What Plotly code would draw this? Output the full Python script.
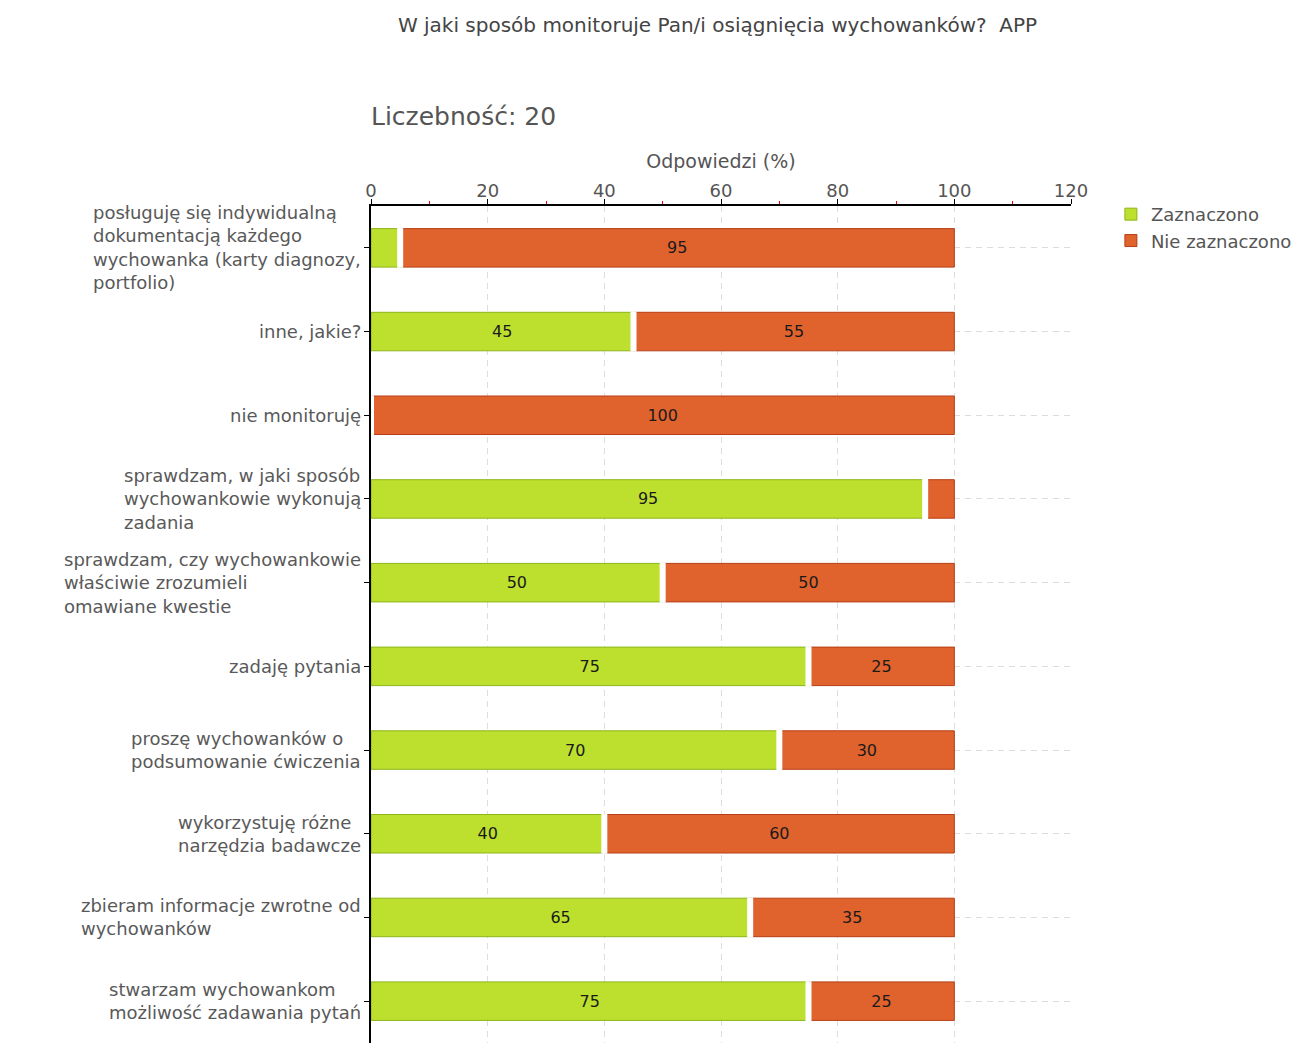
import plotly.graph_objects as go

title_text = "W jaki sposób monitoruje Pan/i osiągnięcia wychowanków?  APP"
count_text = "Liczebność: 20"
axis_title = "Odpowiedzi (%)"

categories = [
    "posługuję się indywidualną<br>dokumentacją każdego<br>wychowanka (karty diagnozy,<br>portfolio)",
    "inne, jakie?",
    "nie monitoruję",
    "sprawdzam, w jaki sposób<br>wychowankowie wykonują<br>zadania",
    "sprawdzam, czy wychowankowie<br>właściwie zrozumieli<br>omawiane kwestie",
    "zadaję pytania",
    "proszę wychowanków o<br>podsumowanie ćwiczenia",
    "wykorzystuję różne<br>narzędzia badawcze",
    "zbieram informacje zwrotne od<br>wychowanków",
    "stwarzam wychowankom<br>możliwość zadawania pytań",
]
cat_keys = [f"c{i}" for i in range(len(categories))]

zaznaczono = [5, 45, 0, 95, 50, 75, 70, 40, 65, 75]
nie_zaznaczono = [95, 55, 100, 5, 50, 25, 30, 60, 35, 25]

series_names = ["Zaznaczono", "Nie zaznaczono"]
green_fill, green_line = "#bde02f", "#8db518"
orange_fill, orange_line = "#e0632e", "#b63e16"

FONT = "DejaVu Sans"

def labels(vals):
    return [str(v) if v >= 10 else "" for v in vals]

fig = go.Figure()

fig.add_trace(go.Bar(
    name=series_names[1], orientation="h", y=cat_keys, x=nie_zaznaczono,
    base=zaznaczono, width=0.46,
    marker=dict(color=orange_fill, line=dict(color=orange_line, width=1)),
    text=labels(nie_zaznaczono), textposition="inside", insidetextanchor="middle",
    textangle=0, constraintext="none",
    textfont=dict(family=FONT, size=16, color="#1a1a1a"),
    legendrank=2, hoverinfo="skip",
))
fig.add_trace(go.Bar(
    name=series_names[0], orientation="h", y=cat_keys, x=zaznaczono,
    width=0.46,
    marker=dict(color=green_fill, line=dict(color=green_line, width=1)),
    text=labels(zaznaczono), textposition="inside", insidetextanchor="middle",
    textangle=0, constraintext="none",
    textfont=dict(family=FONT, size=16, color="#1a1a1a"),
    error_x=dict(type="data", symmetric=False, array=[0] * len(zaznaczono),
                 arrayminus=[0] * len(zaznaczono), color="white",
                 thickness=6, width=20),
    legendrank=1, hoverinfo="skip",
))

# category labels as left-aligned blocks
for key, lab in zip(cat_keys, categories):
    fig.add_annotation(
        x=0, xref="paper", y=key, yref="y", text=lab, showarrow=False,
        xanchor="right", yanchor="middle", align="left", xshift=-8,
        font=dict(family=FONT, size=18, color="#595959"),
    )

fig.add_annotation(
    x=0, xref="paper", y=1 + (198 - 108) / 837, yref="paper", text=count_text,
    showarrow=False, xanchor="left", yanchor="middle", xshift=-2,
    font=dict(family=FONT, size=25, color="#555555"),
)

W, H = 1307, 1035
fig.update_layout(
    width=W, height=H,
    margin=dict(l=363, r=244, t=198, b=0, autoexpand=False),
    paper_bgcolor="white", plot_bgcolor="white",
    barmode="overlay",
    title=dict(text=title_text, xref="container", yref="container",
               x=709.5 / W, xanchor="center", y=1 - 17 / H, yanchor="middle",
               font=dict(family=FONT, size=20, color="#444444")),
    font=dict(family=FONT, color="#555555"),
    showlegend=True,
    legend=dict(x=1.057, xanchor="left", y=1.012, yanchor="top",
                font=dict(family=FONT, size=18, color="#555555"),
                bgcolor="rgba(0,0,0,0)", itemwidth=30, tracegroupgap=0),
    xaxis=dict(
        range=[0, 120], side="top", tick0=0, dtick=20,
        ticks="outside", ticklen=5, tickcolor="black", tickwidth=1,
        ticklabelstandoff=-5,
        showline=True, linecolor="black", linewidth=2,
        showgrid=True, gridcolor="#dddddd", griddash="6px,5px", gridwidth=1,
        zeroline=False,
        tickfont=dict(family=FONT, size=18, color="#555555"),
        minor=dict(dtick=10, tick0=0, ticks="outside", ticklen=3,
                   tickcolor="red", tickwidth=1, showgrid=False),
        title=dict(text=axis_title, standoff=6,
                   font=dict(family=FONT, size=19, color="#555555")),
        fixedrange=True,
    ),
    xaxis2=dict(
        range=[0, 120], overlaying="x", side="top", anchor="y", matches="x",
        tick0=0, dtick=20, ticks="inside", ticklen=5, tickcolor="black",
        tickwidth=1, showticklabels=False, showgrid=False, showline=False,
        zeroline=False,
        minor=dict(dtick=10, tick0=0, ticks="inside", ticklen=2,
                   tickcolor="red", tickwidth=1, showgrid=False),
    ),
    yaxis=dict(
        categoryorder="array", categoryarray=cat_keys,
        range=[len(cat_keys) - 0.5, -0.5],
        showticklabels=False, ticks="outside", ticklen=5, tickcolor="black",
        tickwidth=1, showline=True, linecolor="black", linewidth=2,
        showgrid=True, gridcolor="#dddddd", griddash="6px,5px", gridwidth=1,
        zeroline=False, fixedrange=True,
    ),
)

fig.write_html("out.html")
